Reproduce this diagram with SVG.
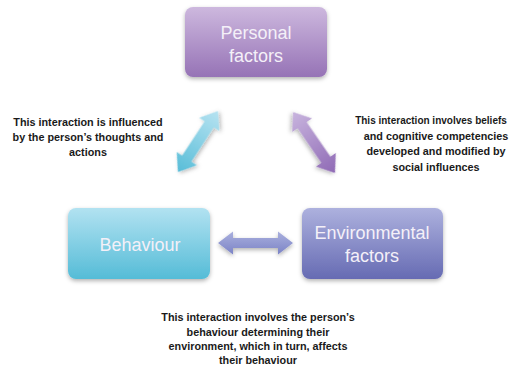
<svg xmlns="http://www.w3.org/2000/svg" width="517" height="365" viewBox="0 0 517 365">
<defs>
<linearGradient id="gP" x1="0" y1="0" x2="0" y2="1"><stop offset="0" stop-color="#cdb8de"/><stop offset="1" stop-color="#9673b6"/></linearGradient>
<linearGradient id="gB" x1="0" y1="0" x2="0" y2="1"><stop offset="0" stop-color="#b2e2f1"/><stop offset="1" stop-color="#55bcd7"/></linearGradient>
<linearGradient id="gE" x1="0" y1="0" x2="0" y2="1"><stop offset="0" stop-color="#adb1de"/><stop offset="1" stop-color="#666bb3"/></linearGradient>
<linearGradient id="gH" x1="0" y1="0" x2="0" y2="1"><stop offset="0" stop-color="#aab0de"/><stop offset="1" stop-color="#7b83c6"/></linearGradient>
<linearGradient id="gL" x1="0" y1="0" x2="1" y2="0"><stop offset="0" stop-color="#58bdd8"/><stop offset="1" stop-color="#b7e3f1"/></linearGradient>
<linearGradient id="gR" x1="0" y1="0" x2="1" y2="0"><stop offset="0" stop-color="#c8b4de"/><stop offset="1" stop-color="#8f6ab5"/></linearGradient>
<filter id="sh" x="-20%" y="-20%" width="140%" height="150%"><feDropShadow dx="0" dy="2" stdDeviation="2" flood-color="#000" flood-opacity="0.3"/></filter>
</defs>
<style>
.box{filter:url(#sh)}
.lbl{font-family:"Liberation Sans",Arial,sans-serif;font-size:18px;fill:#f4f0f8;text-anchor:middle}
.note{font-family:"Liberation Sans",Arial,sans-serif;font-size:10.8px;font-weight:bold;fill:#1a1a1a;text-anchor:middle}
.arr{filter:url(#sh)}
</style>
<g id="personal">
<rect class="box" x="185" y="7" width="142" height="70" rx="8" fill="url(#gP)"/>
<text class="lbl" x="256" y="39">Personal</text>
<text class="lbl" x="256" y="62">factors</text>
</g>
<g id="behaviour">
<rect class="box" x="68" y="208" width="142" height="71" rx="8" fill="url(#gB)"/>
<text class="lbl" x="140" y="251">Behaviour</text>
</g>
<g id="environmental">
<rect class="box" x="302" y="208" width="141" height="71" rx="8" fill="url(#gE)"/>
<text class="lbl" x="372" y="239">Environmental</text>
<text class="lbl" x="372" y="262">factors</text>
</g>
<g id="connectors">
<polygon class="arr" fill="url(#gH)" points="218,243 233,231.5 233,238 278,238 278,231.5 293,243 278,254.5 278,248 233,248 233,254.5"/>
<g transform="translate(198 141.5) rotate(-56.7)">
<polygon class="arr" fill="url(#gL)" points="-36.5,0 -20.5,-12 -20.5,-5.5 20.5,-5.5 20.5,-12 36.5,0 20.5,12 20.5,5.5 -20.5,5.5 -20.5,12"/>
</g>
<g transform="translate(314 142.5) rotate(55.5)">
<polygon class="arr" fill="url(#gR)" points="-37,0 -21,-12 -21,-5.5 21,-5.5 21,-12 37,0 21,12 21,5.5 -21,5.5 -21,12"/>
</g>
</g>
<g id="note-left">
<text class="note" x="88" y="126">This interaction is influenced</text>
<text class="note" x="88" y="141">by the person’s thoughts and</text>
<text class="note" x="88" y="156">actions</text>
</g>
<g id="note-right">
<text class="note" x="431" y="124" style="font-size:10px">This interaction involves beliefs</text>
<text class="note" x="436" y="139.5">and cognitive competencies</text>
<text class="note" x="436" y="155">developed and modified by</text>
<text class="note" x="436" y="170.5">social influences</text>
</g>
<g id="note-bottom">
<text class="note" x="258" y="321">This interaction involves the person’s</text>
<text class="note" x="258" y="335.5">behaviour determining their</text>
<text class="note" x="258" y="350">environment, which in turn, affects</text>
<text class="note" x="258" y="363.5">their behaviour</text>
</g>
</svg>
